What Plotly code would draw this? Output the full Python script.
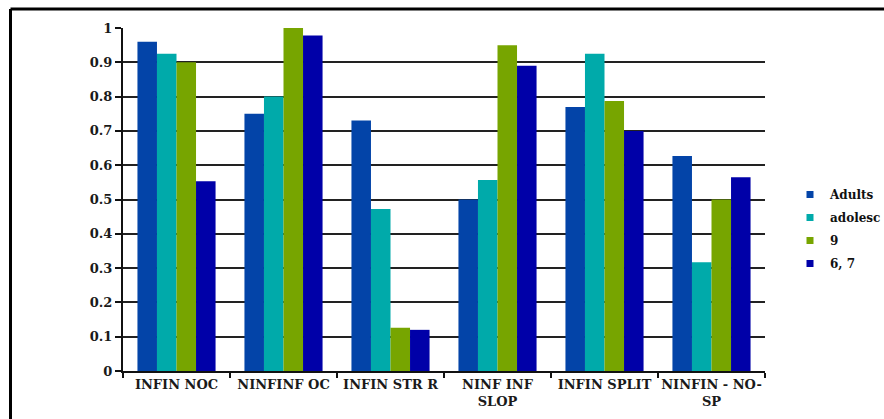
import plotly.graph_objects as go

categories = ["INFIN NOC", "NINFINF OC", "INFIN STR R", "NINF INF<br>SLOP", "INFIN SPLIT", "NINFIN - NO-<br>SP"]
series_names = ["Adults", "adolesc", "9", "6, 7"]
adults = [0.96, 0.75, 0.73, 0.50, 0.77, 0.627]
adolesc = [0.925, 0.80, 0.472, 0.557, 0.925, 0.317]
nine = [0.90, 1.00, 0.126, 0.95, 0.787, 0.50]
six_seven = [0.553, 0.978, 0.12, 0.89, 0.70, 0.565]
colors = ["#0344A8", "#00AAAA", "#77A500", "#0000A8"]
y_ticks = [0, 0.1, 0.2, 0.3, 0.4, 0.5, 0.6, 0.7, 0.8, 0.9, 1]
y_tick_text = ["0", "0.1", "0.2", "0.3", "0.4", "0.5", "0.6", "0.7", "0.8", "0.9", "1"]

font_family = "DejaVu Serif"

fig = go.Figure()
for name, vals, col in zip(series_names, [adults, adolesc, nine, six_seven], colors):
    fig.add_trace(go.Bar(
        x=categories, y=vals, name=name, showlegend=False,
        marker=dict(color=col, line=dict(width=0)),
    ))
    # small square swatch for the legend entry
    fig.add_trace(go.Scatter(
        x=[None], y=[None], mode="markers", name=name, legendgroup=name,
        marker=dict(symbol="square", size=7, color=col),
    ))

W, H = 884, 419
ml, mr, mt, mb = 123, 119, 28, 48
pw = W - ml - mr
ph = H - mt - mb

def px_x(p):
    return (p - ml) / pw

def px_y(p):
    return (H - mb - p) / ph

fig.update_layout(
    width=W, height=H,
    margin=dict(l=ml, r=mr, t=mt, b=mb, autoexpand=False),
    barmode="group", bargap=0.27, bargroupgap=0,
    plot_bgcolor="white", paper_bgcolor="white",
    font=dict(family=font_family, size=13, color="#1a1a1a", weight="bold"),
    legend=dict(
        xref="container", yref="container",
        x=790 / W, y=1 - 180 / H, xanchor="left", yanchor="top",
        font=dict(family=font_family, size=12, color="#111111", weight="bold"),
        itemwidth=30, tracegroupgap=4, traceorder="grouped",
        bgcolor="rgba(0,0,0,0)",
    ),
    xaxis=dict(
        showline=True, linecolor="#111111", linewidth=2,
        ticks="outside", tickson="boundaries", ticklen=5, tickcolor="#111111", tickwidth=2,
        showgrid=False, tickfont=dict(size=13), tickangle=0,
    ),
    yaxis=dict(
        range=[0, 1], tickvals=y_ticks, ticktext=y_tick_text,
        showline=True, linecolor="#111111", linewidth=2,
        ticks="outside", ticklen=6, tickcolor="#111111", tickwidth=2,
        showgrid=True, gridcolor="#222222", gridwidth=2,
        zeroline=False, tickfont=dict(size=13),
    ),
    shapes=[
        dict(type="line", xref="paper", yref="paper",
             x0=px_x(10.5), x1=px_x(W + 5), y0=px_y(9), y1=px_y(9),
             line=dict(color="black", width=3)),
        dict(type="line", xref="paper", yref="paper",
             x0=px_x(10.5), x1=px_x(10.5), y0=px_y(9), y1=px_y(H + 5),
             line=dict(color="black", width=3)),
    ],
)

fig.write_html("out.html")
